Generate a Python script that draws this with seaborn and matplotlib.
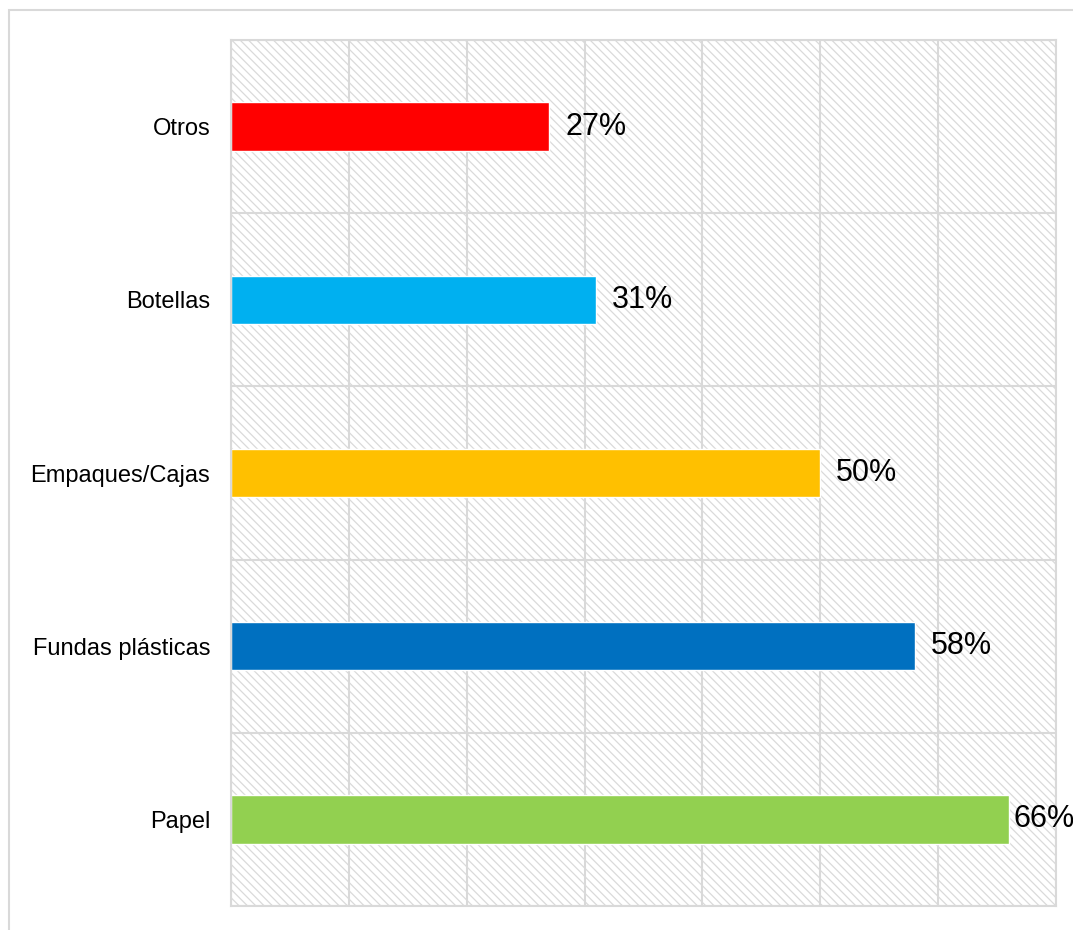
import pandas as pd
import matplotlib
matplotlib.use("Agg")
import matplotlib.pyplot as plt
import seaborn as sb
from matplotlib.patches import Rectangle

# DATA
#----------------------------------------------------
categories = ["Otros", "Botellas", "Empaques/Cajas", "Fundas plásticas", "Papel"]
values = [27, 31, 50, 58, 66]
colors = ["#FF0000", "#00B0F0", "#FFC000", "#0070C0", "#92D050"]
labels = ["27%", "31%", "50%", "58%", "66%"]

GRID = "#d9d9d9"

# PLOT
#----------------------------------------------------
def make_chart():
    df = pd.DataFrame({"category": categories, "value": values})

    sb.set_style("white")
    plt.rcParams["font.family"] = ["Liberation Sans", "DejaVu Sans"]
    plt.rcParams["hatch.linewidth"] = 0.9

    fig = plt.figure(figsize=(10.73, 9.3), dpi=100)
    ax = fig.add_axes([231 / 1073, 24 / 930, 825 / 1073, 866 / 930])

    # hatched plot area
    ax.add_patch(Rectangle((0, 0), 1, 1, transform=ax.transAxes,
                           facecolor="white", edgecolor="#dadada",
                           hatch="\\\\\\\\", lw=0, zorder=0))

    sb.barplot(data=df, y="category", x="value", hue="category",
               palette=colors, order=categories, hue_order=categories,
               width=0.28, saturation=1, legend=False, ax=ax, zorder=2)

    pads = [11.5, 11.5, 11.5, 11.5, 3.5]
    for cont, lab, pad in zip(ax.containers, labels, pads):
        ax.bar_label(cont, labels=[lab], padding=pad, fontsize=22,
                     color="black", clip_on=False)

    ax.set_xlim(0, 70)
    ax.set_ylim(4.5, -0.5)
    ax.set_xticks(range(0, 71, 10))
    ax.set_xticklabels([])
    ax.set_yticks(range(len(categories)), minor=False)
    ax.set_yticks([i - 0.5 for i in range(len(categories) + 1)], minor=True)
    ax.tick_params(axis="y", which="major", length=0, pad=15, labelsize=17,
                   labelcolor="black")
    ax.tick_params(axis="both", which="both", length=0)
    ax.set_axisbelow(True)
    ax.grid(axis="x", which="major", color=GRID, lw=1.5, zorder=1)
    ax.grid(axis="y", which="minor", color=GRID, lw=1.5, zorder=1)
    ax.grid(axis="y", which="major", visible=False)
    ax.set_xlabel("")
    ax.set_ylabel("")
    for sp in ax.spines.values():
        sp.set_visible(True)
        sp.set_color(GRID)
        sp.set_linewidth(1.5)

    # outer chart border
    fig.patches.append(Rectangle((9 / 1073, -0.05), 1.1, (920 / 930) + 0.05,
                                 transform=fig.transFigure, fill=False,
                                 edgecolor=GRID, lw=1.5))

    fig.savefig("out.png", dpi=100)


if __name__ == "__main__":
    make_chart()
